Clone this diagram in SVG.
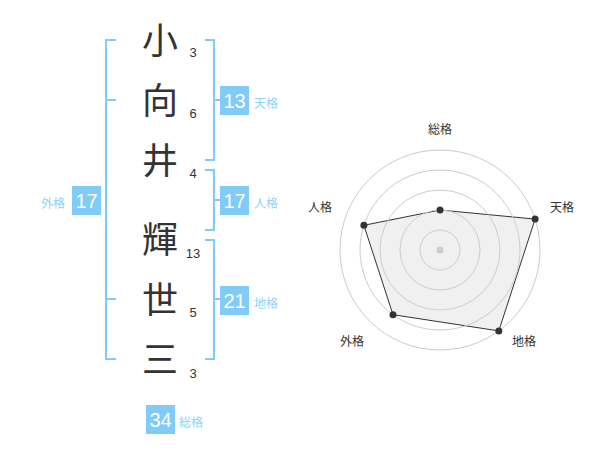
<svg xmlns="http://www.w3.org/2000/svg" width="600" height="470" viewBox="0 0 600 470">
<style>
.br{fill:none;stroke:#80cbf7;stroke-width:2}
.ch{font-family:"Noto Sans CJK JP","Noto Sans CJK SC",sans-serif;font-size:36px;fill:#333;text-anchor:middle}
.sn{font-family:"Liberation Sans",Arial,sans-serif;font-size:13px;fill:#333;text-anchor:middle}
.bx{fill:#80cbf7}
.bn{font-family:"Liberation Sans",Arial,sans-serif;font-size:20px;fill:#fff;text-anchor:middle}
.lb{font-family:"Noto Sans CJK JP","Noto Sans CJK SC",sans-serif;font-size:12px;fill:#8fd2f8}
.ring{fill:none;stroke:#cccccc;stroke-width:1}
.rl{font-family:"Noto Sans CJK JP","Noto Sans CJK SC",sans-serif;font-size:12px;fill:#333;text-anchor:middle}
.pt{fill:#333}
</style>
<rect width="600" height="470" fill="#fff"/>
<g id="connectors">
<path class="br" d="M116,40H106V359H116M106,100H116M106,299H116"/>
<path class="br" d="M205,40H214V160H205M214,100H224"/>
<path class="br" d="M205,170H214V230H205M214,200H224"/>
<path class="br" d="M205,240H214V359H205M214,299H224"/>
</g>
<g id="chars">
<text class="ch" x="160" y="54">小</text>
<text class="ch" x="160" y="114">向</text>
<text class="ch" x="160" y="174">井</text>
<text class="ch" x="160" y="253">輝</text>
<text class="ch" x="160" y="313">世</text>
<text class="ch" x="160" y="373">三</text>
<text class="sn" x="193" y="57">3</text>
<text class="sn" x="193" y="118">6</text>
<text class="sn" x="193" y="178">4</text>
<text class="sn" x="193" y="258">13</text>
<text class="sn" x="193" y="317">5</text>
<text class="sn" x="193" y="378">3</text>
</g>
<g id="tenkaku">
<rect class="bx" x="220" y="86" width="29" height="29"/>
<text class="bn" x="234.5" y="108">13</text>
<text class="lb" x="254" y="108">天格</text>
</g>
<g id="jinkaku">
<rect class="bx" x="220" y="186" width="29" height="29"/>
<text class="bn" x="234.5" y="208">17</text>
<text class="lb" x="254" y="208">人格</text>
</g>
<g id="chikaku">
<rect class="bx" x="220" y="286" width="29" height="29"/>
<text class="bn" x="234.5" y="308">21</text>
<text class="lb" x="254" y="308">地格</text>
</g>
<g id="gaikaku">
<rect class="bx" x="72" y="186" width="29" height="29"/>
<text class="bn" x="86.5" y="208">17</text>
<text class="lb" x="41" y="208">外格</text>
</g>
<g id="soukaku">
<rect class="bx" x="146" y="405" width="29" height="29"/>
<text class="bn" x="160.5" y="427">34</text>
<text class="lb" x="179" y="427">総格</text>
</g>
<g id="radar">
<polygon points="440,210 535.1,219.1 498.8,330.9 393,314.7 363.9,225.3" fill="#f0f0f0" stroke="#333" stroke-width="1"/>
<circle class="ring" cx="440" cy="250" r="20"/>
<circle class="ring" cx="440" cy="250" r="40"/>
<circle class="ring" cx="440" cy="250" r="60"/>
<circle class="ring" cx="440" cy="250" r="80"/>
<circle class="ring" cx="440" cy="250" r="100"/>
<circle cx="440" cy="250" r="3.5" fill="#cccccc"/>
<circle class="pt" cx="440" cy="210" r="3.5"/>
<circle class="pt" cx="535.1" cy="219.1" r="3.5"/>
<circle class="pt" cx="498.8" cy="330.9" r="3.5"/>
<circle class="pt" cx="393" cy="314.7" r="3.5"/>
<circle class="pt" cx="363.9" cy="225.3" r="3.5"/>
<text class="rl" x="440" y="134">総格</text>
<text class="rl" x="562" y="212">天格</text>
<text class="rl" x="320" y="212">人格</text>
<text class="rl" x="352" y="346">外格</text>
<text class="rl" x="524" y="346">地格</text>
</g>
</svg>
